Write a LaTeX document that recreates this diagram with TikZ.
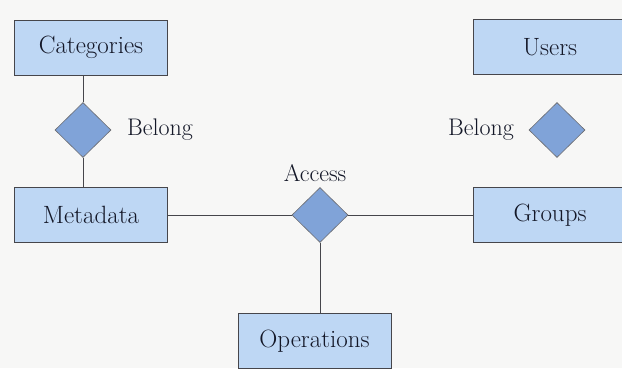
\documentclass[tikz,border=0pt]{standalone}
\usepackage{fontspec}
\usetikzlibrary{shapes.geometric}
\definecolor{boxfill}{RGB}{190,215,244}
\definecolor{relfill}{RGB}{128,163,216}
\definecolor{edgegray}{RGB}{70,70,75}
\definecolor{paper}{RGB}{247,247,246}
\definecolor{inkblue}{RGB}{20,24,40}
\begin{document}
\begin{tikzpicture}[x=1pt, y=-1pt]

\tikzstyle{entity}=[rectangle, draw=edgegray, fill=boxfill, line width=0.9pt, minimum width=153pt, minimum height=55pt, inner sep=0pt, text=inkblue, font=\fontsize{25}{29}\selectfont]
\tikzstyle{relation}=[diamond, aspect=1, draw=edgegray!80, fill=relfill, line width=0.6pt, minimum width=56pt, minimum height=55pt, inner sep=0pt]
\tikzstyle{rellabel}=[inner sep=0pt, text=inkblue, font=\fontsize{24}{28}\selectfont]
\tikzstyle{link}=[draw=edgegray, line width=0.9pt]

\fill [paper] (0,0) rectangle (622,368);
\clip (0,0) rectangle (622,368);

% entities
\node (Categories) [entity] at (91,47.5)  {Categories};
\node (Metadata)   [entity] at (91,215)   {Metadata};
\node (Users)      [entity] at (550,47)   {Users};
\node (Groups)     [entity] at (550,215)  {Groups};
\node (Operations) [entity] at (314.5,341) {Operations};

% relations
\node (belongL) [relation] at (83,130)  {};
\node (belongR) [relation] at (557,130) {};
\node (access)  [relation] at (320,215) {};

\node (belongLtxt) [rellabel] at (160,130) {Belong};
\node (belongRtxt) [rellabel] at (481,130) {Belong};
\node (accesstxt)  [rellabel] at (315,173) {Access};

% links
\draw [link] (belongL |- Categories.south) -- (belongL);
\draw [link] (belongL) -- (belongL |- Metadata.north);
\draw [link] (Metadata) -- (access);
\draw [link] (access) -- (Groups);
\draw [link] (access) -- (access |- Operations.north);

\end{tikzpicture}
\end{document}
